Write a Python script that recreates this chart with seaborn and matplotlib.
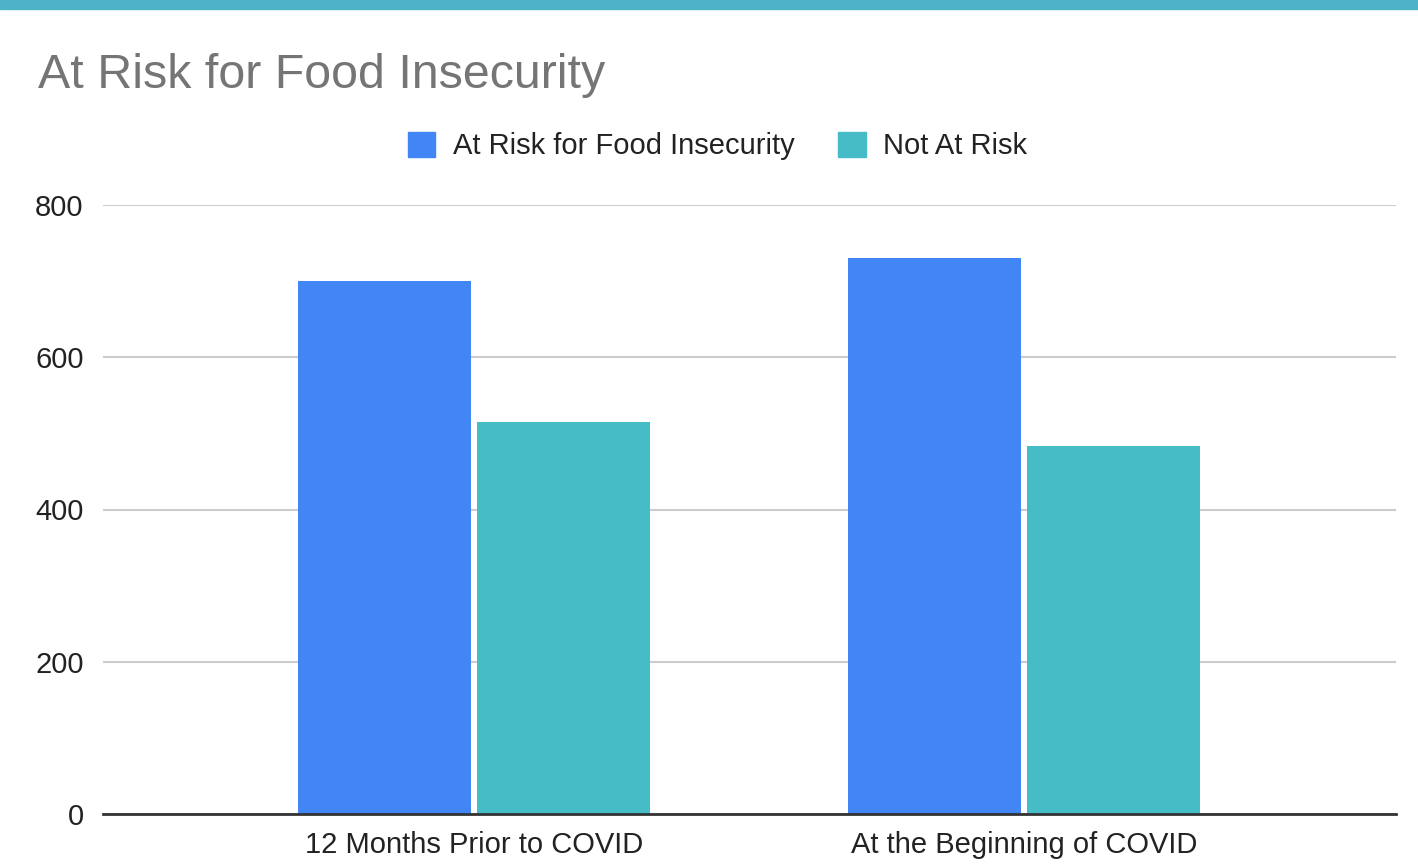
import matplotlib
matplotlib.use("Agg")
import matplotlib.pyplot as plt
import matplotlib.patches as mpatches
import seaborn as sns
import pandas as pd

categories = ["12 Months Prior to COVID", "At the Beginning of COVID"]
series_names = ["At Risk for Food Insecurity", "Not At Risk"]
at_risk = [700, 731]
not_at_risk = [515, 484]
y_ticks = [0, 200, 400, 600, 800]
colors = ["#4285F4", "#46BDC6"]

df = pd.DataFrame({
    "category": categories * 2,
    "series": [series_names[0]] * 2 + [series_names[1]] * 2,
    "value": at_risk + not_at_risk,
})

sns.set_theme(style="white")
plt.rcParams["font.family"] = ["Liberation Sans", "DejaVu Sans"]

fig = plt.figure(figsize=(14.18, 8.65), dpi=100)
ax = fig.add_axes([103 / 1418, 51 / 865, (1396 - 103) / 1418, (814 - 205) / 865])

sns.barplot(data=df, x="category", y="value", hue="series", hue_order=series_names,
            palette=colors, width=0.651, gap=0.034, ax=ax, legend=False,
            saturation=1, linewidth=0)

ax.set_xlim(-0.675, 1.676)
ax.set_ylim(0, 800)
ax.set_yticks(y_ticks)
ax.set_yticklabels([str(v) for v in y_ticks])
ax.set_xlabel("")
ax.set_ylabel("")
ax.grid(axis="y", color="#cccccc", linewidth=1.5)
ax.set_axisbelow(True)
for s in ["top", "right", "left"]:
    ax.spines[s].set_visible(False)
ax.spines["bottom"].set_color("#333333")
ax.spines["bottom"].set_linewidth(2)
ax.spines["bottom"].set_zorder(5)
ax.tick_params(axis="both", length=0, labelsize=21, colors="#222222")
ax.tick_params(axis="y", pad=14)
ax.tick_params(axis="x", pad=12)

fig.text(38 / 1418, 1 - 75 / 865, "At Risk for Food Insecurity", fontsize=34.8,
         color="#757575", ha="left", va="center")

handles = [mpatches.Patch(color=c, label=n) for c, n in zip(colors, series_names)]
fig.legend(handles=handles, loc="center", bbox_to_anchor=(0.506, 1 - 146 / 865),
           ncol=2, frameon=False, fontsize=21, handlelength=0.95, handleheight=0.95,
           handletextpad=0.6, columnspacing=1.5, labelcolor="#222222")

fig.patches.append(mpatches.Rectangle((0, 1 - 9 / 865), 1, 9 / 865,
                                      transform=fig.transFigure, color="#4DB4C8",
                                      zorder=10))

fig.savefig("out.png", dpi=100, facecolor="white")
